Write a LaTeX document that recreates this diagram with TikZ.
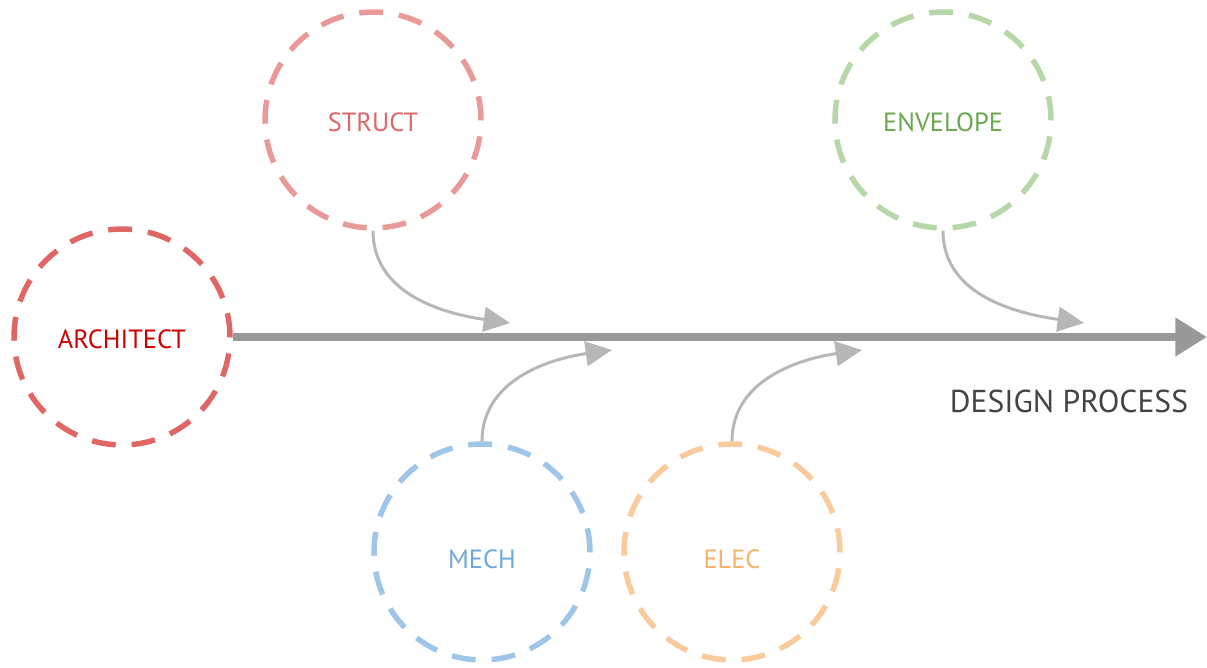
\documentclass[tikz,border=0pt]{standalone}
\usepackage{fontspec}
\setmainfont{PT Sans}
\usetikzlibrary{arrows.meta}

\definecolor{archline}{HTML}{E06666}
\definecolor{archtext}{HTML}{CC0000}
\definecolor{structline}{HTML}{EA9999}
\definecolor{structtext}{HTML}{E06666}
\definecolor{envline}{HTML}{B6D7A8}
\definecolor{envtext}{HTML}{6AA84F}
\definecolor{mechline}{HTML}{9FC5E8}
\definecolor{mechtext}{HTML}{6FA8DC}
\definecolor{elecline}{HTML}{F9CB9C}
\definecolor{electext}{HTML}{F6B26B}
\definecolor{flowgray}{HTML}{B7B7B7}
\definecolor{maingray}{HTML}{999999}
\definecolor{labelgray}{HTML}{434343}

\tikzset{
  party/.style={circle, draw=#1, line width=3.1pt, minimum size=4.32cm,
    dash pattern=on 13.6pt off 9.1pt, font=\fontsize{15}{18}\selectfont,
    text height=13pt, text depth=0pt},
  handoff/.style={flowgray, line width=1.7pt,
    -{Triangle[length=15pt, width=14pt]}},
}

\begin{document}
\begin{tikzpicture}[x=0.02cm, y=-0.02cm]
  \useasboundingbox (0,0) rectangle (1207,668);

  % --- 1. 各分野の円 ---
  \node[party=archline, text=archtext] (arch) at (122,337) {ARCHITECT};
  \node[party=structline, text=structtext] (struct) at (373,120) {STRUCT};
  \node[party=envline, text=envtext] (env) at (943,120) {ENVELOPE};
  \node[party=mechline, text=mechtext, text height=19pt] (mech) at (482,552) {MECH};
  \node[party=elecline, text=electext, text height=19pt] (elec) at (732,552) {ELEC};

  % --- 2. 設計プロセスの主軸 ---
  \coordinate (tip) at (1207,337);
  \draw[maingray, line width=4.6pt, -{Triangle[length=18pt, width=21pt]}]
    (arch.east) -- (tip);
  \node[text=labelgray, font=\fontsize{18}{21}\selectfont] (proc) at (1069,401)
    {DESIGN PROCESS};

  % --- 3. 主軸への合流点 ---
  \coordinate (instruct) at (510,323);
  \coordinate (inmech) at (612,350);
  \coordinate (inelec) at (862,350);
  \coordinate (inenv) at (1084,323);

  % --- 4. 合流の矢印 ---
  \draw[handoff] (struct.south) to[out=-90, in=172] (instruct);
  \draw[handoff] (mech.north) to[out=90, in=188] (inmech);
  \draw[handoff] (elec.north) to[out=90, in=188] (inelec);
  \draw[handoff] (env.south) to[out=-90, in=172] (inenv);

\end{tikzpicture}
\end{document}
